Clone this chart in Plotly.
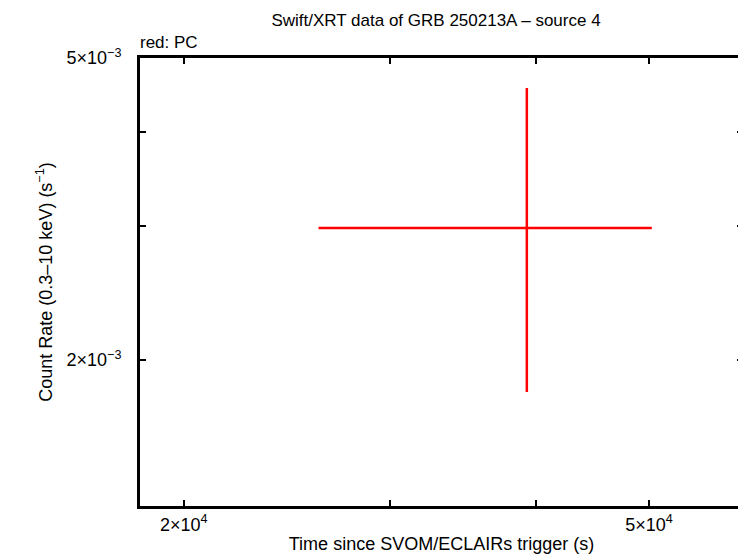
import plotly.graph_objects as go

# Data
t_mid = [39310]
t_lo = [26080]
t_hi = [50280]
rate = [2.985e-3]
rate_lo = [1.815e-3]
rate_hi = [4.565e-3]

x_tickvals = [2e4, 3e4, 4e4, 5e4, 6e4]
x_ticktext = ["2×10<sup>4</sup>", "", "", "5×10<sup>4</sup>", ""]
y_tickvals = [2e-3, 3e-3, 4e-3, 5e-3]
y_ticktext = ["2×10<sup>−3</sup>", "", "", "5×10<sup>−3</sup>"]

font = "Liberation Sans, Arial, sans-serif"

fig = go.Figure()
fig.add_trace(go.Scatter(
    x=t_mid, y=rate, mode="markers",
    marker=dict(size=1, color="red", opacity=0),
    error_x=dict(type="data", symmetric=False,
                 array=[h - m for h, m in zip(t_hi, t_mid)],
                 arrayminus=[m - l for m, l in zip(t_mid, t_lo)],
                 color="red", thickness=2.5, width=0),
    error_y=dict(type="data", symmetric=False,
                 array=[h - m for h, m in zip(rate_hi, rate)],
                 arrayminus=[m - l for m, l in zip(rate, rate_lo)],
                 color="red", thickness=2.5, width=0),
    showlegend=False,
))

# page body has an 8px default margin, so the figure is 738x550 offset by 8px
fig.update_layout(
    width=738, height=550,
    margin=dict(l=132, r=3, t=50, b=52, autoexpand=False),
    paper_bgcolor="white", plot_bgcolor="white",
    font=dict(family=font, size=18, color="black"),
    title=dict(text="Swift/XRT data of GRB 250213A – source 4",
               x=0.58, xanchor="center", y=0.978, yanchor="middle",
               font=dict(size=17)),
    annotations=[dict(text="red: PC", xref="paper", yref="paper",
                      x=-0.003, y=1.0, xanchor="left", yanchor="bottom",
                      yshift=4, showarrow=False, font=dict(size=17))],
)
fig.update_xaxes(
    type="log", range=[4.2636, 4.7794], automargin=False,
    tickvals=x_tickvals, ticktext=x_ticktext,
    ticks="inside", ticklen=6, tickwidth=2, tickcolor="black",
    ticklabelstandoff=0,
    showline=True, linewidth=3, linecolor="black", mirror="allticks",
    showgrid=False, zeroline=False,
    title=dict(text="Time since SVOM/ECLAIRs trigger (s)", standoff=4,
               font=dict(size=18)),
)
fig.update_yaxes(
    type="log", range=[-2.8914, -2.30103], automargin=False,
    tickvals=y_tickvals, ticktext=y_ticktext,
    ticks="inside", ticklen=6, tickwidth=2, tickcolor="black",
    ticklabelstandoff=12,
    showline=True, linewidth=3, linecolor="black", mirror="allticks",
    showgrid=False, zeroline=False,
    title=dict(text="Count Rate (0.3–10 keV) (s<sup>−1</sup>)", standoff=10,
               font=dict(size=18)),
)

fig.write_html("out.html")
